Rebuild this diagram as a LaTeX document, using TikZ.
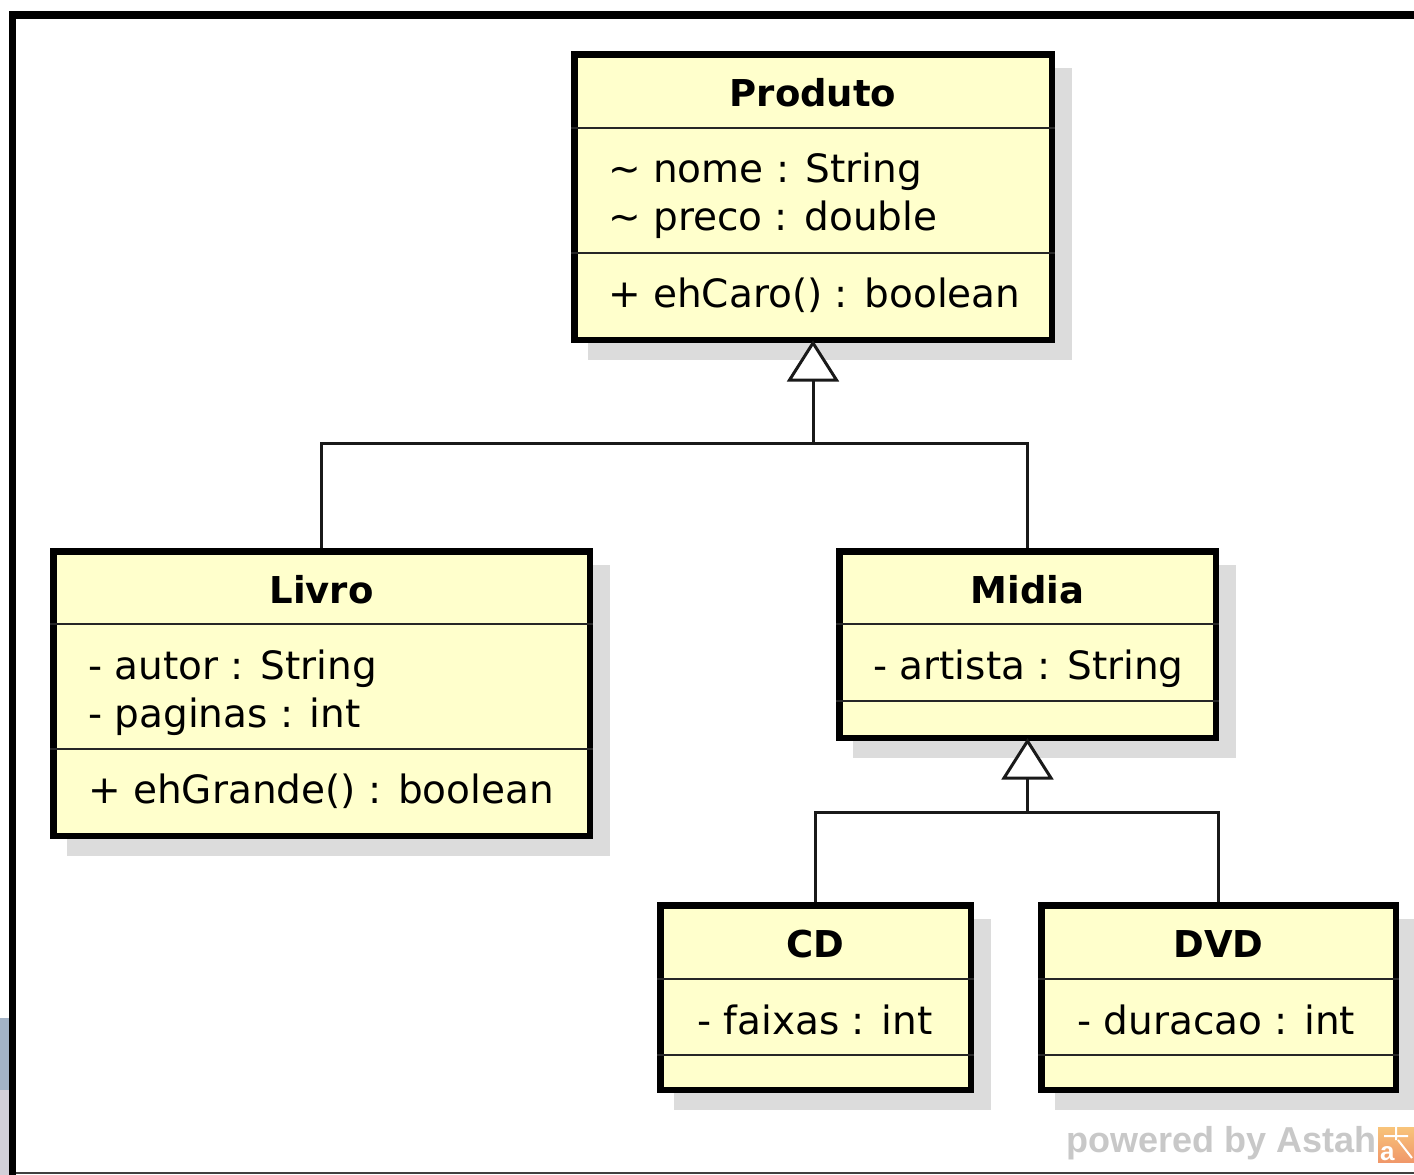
\documentclass[tikz,border=0pt]{standalone}
\usepackage{fontspec}
\setmainfont{DejaVu Sans}
\newfontfamily\wmfont{Liberation Sans}
\definecolor{umlyellow}{HTML}{FFFFCC}
\definecolor{shadowgray}{HTML}{DCDCDC}
\definecolor{wmgray}{HTML}{C8C8C8}
\definecolor{patchblue}{HTML}{A3B3C6}
\definecolor{patchgray}{HTML}{D2D0D8}
\definecolor{logotop}{HTML}{F8C47A}
\definecolor{logobot}{HTML}{F0986A}
\begin{document}
\begin{tikzpicture}[x=1pt,y=-1pt,
  classbox/.style={draw=black, line width=6.5pt, fill=umlyellow, inner sep=0pt, rectangle},
  sepline/.style={line width=2.2pt, draw=black!85},
  conn/.style={line width=3pt, draw=black!90},
  title/.style={font=\bfseries\fontsize{37}{44}\selectfont, anchor=base, inner sep=0pt},
  member/.style={font=\fontsize{39}{46}\selectfont, anchor=base west, inner sep=0pt}]
\useasboundingbox (0,0) rectangle (1414,1175);
\fill[white] (0,0) rectangle (1414,1175);
% outer frame
\fill[patchblue] (0,1018) rectangle (9,1090);
\fill[patchgray] (0,1090) rectangle (9,1175);
\fill[black] (9,11) rectangle (16,1175);
\fill[black] (9,11) rectangle (1414,19);
\fill[black!75] (16,1171.5) rectangle (1414,1174);
% shadows
\fill[shadowgray] (588,68) rectangle (1072,360);
\fill[shadowgray] (67,565) rectangle (610,856);
\fill[shadowgray] (853,565) rectangle (1236,758);
\fill[shadowgray] (674,919) rectangle (991,1110);
\fill[shadowgray] (1055,919) rectangle (1414,1110);
% class boxes
\node[classbox, minimum width=477.5, minimum height=285.5] (produto) at (813,197) {};
\node[classbox, minimum width=536.5, minimum height=284.5] (livro) at (321.5,693.5) {};
\node[classbox, minimum width=376.5, minimum height=186.5] (midia) at (1027.5,644.5) {};
\node[classbox, minimum width=310.5, minimum height=184.5] (cd) at (815.5,997.5) {};
\node[classbox, minimum width=354.5, minimum height=184.5] (dvd) at (1218.5,997.5) {};
% separators
\draw[sepline] (produto.west |- 0,128) -- (produto.east |- 0,128);
\draw[sepline] (produto.west |- 0,253) -- (produto.east |- 0,253);
\draw[sepline] (livro.west |- 0,624) -- (livro.east |- 0,624);
\draw[sepline] (livro.west |- 0,749) -- (livro.east |- 0,749);
\draw[sepline] (midia.west |- 0,624) -- (midia.east |- 0,624);
\draw[sepline] (midia.west |- 0,701) -- (midia.east |- 0,701);
\draw[sepline] (cd.west |- 0,979) -- (cd.east |- 0,979);
\draw[sepline] (cd.west |- 0,1055) -- (cd.east |- 0,1055);
\draw[sepline] (dvd.west |- 0,979) -- (dvd.east |- 0,979);
\draw[sepline] (dvd.west |- 0,1055) -- (dvd.east |- 0,1055);
% texts
\node[title] (produtoT) at (813,106) {Produto};
\node[member] (produtoA1) at (608,182) {\textasciitilde\ nome : String};
\node[member] (produtoA2) at (608,230) {\textasciitilde\ preco : double};
\node[member] (produtoO1) at (608,307) {+ ehCaro() : boolean};
\node[title] (livroT) at (321.5,603) {Livro};
\node[member] (livroA1) at (88,679) {- autor : String};
\node[member] (livroA2) at (88,727) {- paginas : int};
\node[member] (livroO1) at (88,803) {+ ehGrande() : boolean};
\node[title] (midiaT) at (1027.5,603) {Midia};
\node[member] (midiaA1) at (873,679) {- artista : String};
\node[title] (cdT) at (815.5,957) {CD};
\node[member] (cdA1) at (697,1034) {- faixas : int};
\node[title] (dvdT) at (1218.5,957) {DVD};
\node[member] (dvdA1) at (1077,1034) {- duracao : int};
% generalizations
\coordinate (j1) at (813,443);
\path (produto.south) ++(0,37) coordinate (t1base);
\draw[conn] (t1base) -- (j1);
\draw[conn] (livro.north) |- (j1) -| (midia.north);
\draw[conn, fill=white, line join=miter] (produto.south) -- ++(-23.5,37) -- ++(47,0) -- cycle;
\coordinate (j2) at (1027.5,812);
\path (midia.south) ++(0,37) coordinate (t2base);
\draw[conn] (t2base) -- (j2);
\draw[conn] (cd.north) |- (j2) -| (dvd.north);
\draw[conn, fill=white, line join=miter] (midia.south) -- ++(-23.5,37) -- ++(47,0) -- cycle;
% watermark
\node[font=\wmfont\bfseries\fontsize{36}{36}\selectfont, text=wmgray, anchor=base east, inner sep=0pt] (wm) at (1377,1152) {powered by Astah};
\shade[top color=logotop, bottom color=logobot] (1378,1127) rectangle (1414,1162);
\draw[white, line width=2pt] (1396,1127) -- (1396,1140) (1384,1136) -- (1408,1136) (1398,1140) -- (1412,1158);
\node[font=\wmfont\bfseries\fontsize{26}{26}\selectfont, text=white, anchor=base west, inner sep=0pt] (logoA) at (1380,1160) {a};
\end{tikzpicture}
\end{document}
